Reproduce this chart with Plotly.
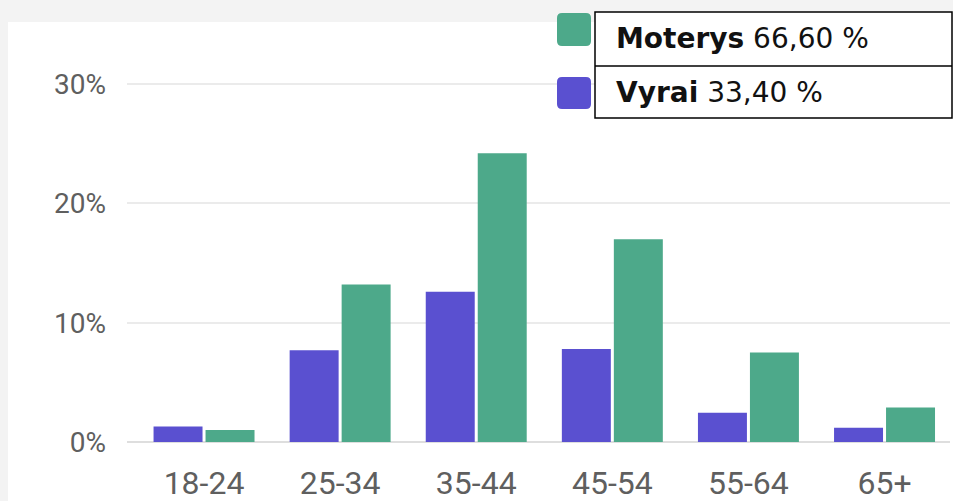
import plotly.graph_objects as go

categories = ["18-24", "25-34", "35-44", "45-54", "55-64", "65+"]
vyrai = [1.3, 7.7, 12.6, 7.8, 2.45, 1.2]
moterys = [1.0, 13.2, 24.2, 17.0, 7.5, 2.9]
y_ticks = [0, 10, 20, 30]
y_tick_text = [f"{v}%" for v in y_ticks]
legend_labels = ["<b>Moterys</b> 66,60 %", "<b>Vyrai</b> 33,40 %"]

PURPLE = "#5a50d0"
GREEN = "#4da98a"

W, H = 953, 501
L, R, T, B = 127, 3, 59, 59
PW, PH = W - L - R, H - T - B


def px(x):
    return (x - L) / PW


def py(y):
    return (H - B - y) / PH


def rounded(x0, y0, x1, y1, r):
    rx = r / PW
    ry = r / PH
    a, b, c, d = px(x0), py(y1), px(x1), py(y0)
    return (f"M {a+rx},{b} L {c-rx},{b} Q {c},{b} {c},{b+ry} L {c},{d-ry} Q {c},{d} {c-rx},{d} "
            f"L {a+rx},{d} Q {a},{d} {a},{d-ry} L {a},{b+ry} Q {a},{b} {a+rx},{b} Z")


fig = go.Figure()
fig.add_trace(go.Bar(x=categories, y=vyrai, name="Vyrai", marker=dict(color=PURPLE, line=dict(width=0))))
fig.add_trace(go.Bar(x=categories, y=moterys, name="Moterys", marker=dict(color=GREEN, line=dict(width=0))))

shapes = [
    # white card over gray page
    dict(type="rect", xref="paper", yref="paper", x0=px(8), x1=px(W + 5), y0=py(H + 5), y1=py(22),
         fillcolor="white", line=dict(width=0), layer="below"),
    # legend swatches
    dict(type="path", xref="paper", yref="paper", path=rounded(557, 13, 591, 46, 5),
         fillcolor=GREEN, line=dict(width=0)),
    dict(type="path", xref="paper", yref="paper", path=rounded(557, 77, 591, 109, 5),
         fillcolor=PURPLE, line=dict(width=0)),
    # legend text boxes
    dict(type="rect", xref="paper", yref="paper", x0=px(595), x1=px(952), y0=py(118), y1=py(12),
         fillcolor="white", line=dict(color="black", width=1.5)),
    dict(type="line", xref="paper", yref="paper", x0=px(595), x1=px(952), y0=py(66), y1=py(66),
         line=dict(color="black", width=1.5)),
]

annotations = [
    dict(xref="paper", yref="paper", x=px(614), y=py(39), text=legend_labels[0], showarrow=False,
         xanchor="left", yanchor="middle", font=dict(family="DejaVu Sans", size=28, color="#111111")),
    dict(xref="paper", yref="paper", x=px(614), y=py(92), text=legend_labels[1], showarrow=False,
         xanchor="left", yanchor="middle", font=dict(family="DejaVu Sans", size=28, color="#111111")),
]

fig.update_layout(
    width=W, height=H, autosize=False,
    margin=dict(l=L, r=R, t=T, b=B, autoexpand=False),
    paper_bgcolor="#f3f3f3",
    plot_bgcolor="rgba(0,0,0,0)",
    barmode="group",
    bargap=0.236,
    bargroupgap=0.058,
    showlegend=False,
    shapes=shapes,
    annotations=annotations,
    font=dict(family="Roboto", color="#5f5f5f"),
)
fig.update_xaxes(
    range=[-0.566, 5.481],
    showgrid=False, showline=False, ticks="",
    tickfont=dict(family="Roboto", size=32, color="#5f5f5f"),
    ticklabelstandoff=19,
    automargin=False,
)
fig.update_yaxes(
    range=[0, 32.1],
    tickmode="array", tickvals=y_ticks, ticktext=y_tick_text,
    showgrid=True, gridcolor="#ebebeb", gridwidth=1.5,
    zeroline=True, zerolinecolor="#dedede", zerolinewidth=2,
    showline=False, ticks="",
    tickfont=dict(family="Roboto", size=28, color="#5f5f5f"),
    ticklabelstandoff=20,
    automargin=False,
)

fig.write_html(
    "out.html",
    config={"displayModeBar": False},
    post_script="document.body.style.margin='0';document.body.style.overflow='hidden';",
)
